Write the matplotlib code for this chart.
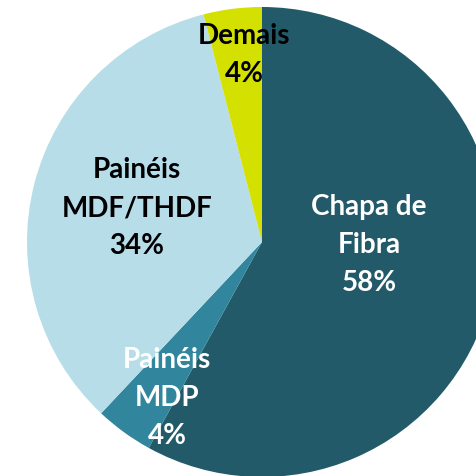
import matplotlib
matplotlib.use('Agg')
import matplotlib.pyplot as plt

# data
categories = ['Chapa de\nFibra', 'Painéis\nMDP', 'Painéis\nMDF/THDF', 'Demais']
shares = [58, 4, 34, 4]
colors = ['#225a69', '#31859c', '#b7dde8', '#d4e000']
text_colors = ['white', 'white', 'black', 'black']

# label centres in pixels (x, y from top)
label_pos = [(369, 245), (167, 398), (137, 208), (244, 55)]

W, H = 477, 476
fig = plt.figure(figsize=(W / 100, H / 100), dpi=100)
ax = fig.add_axes([0, 0, 1, 1])

cx, cy, r = 262, H - 242, 235
ax.pie(shares, colors=colors, startangle=90, counterclock=False,
       center=(cx, cy), radius=r, frame=True,
       wedgeprops=dict(linewidth=0))
ax.set_xlim(0, W)
ax.set_ylim(0, H)
ax.set_aspect('equal')
ax.axis('off')

for cat, val, col, (px, py) in zip(categories, shares, text_colors, label_pos):
    ax.text(px, H - py, '%s\n%d%%' % (cat, val), color=col,
            ha='center', va='center', fontsize=20, fontweight='bold',
            family='Lato', linespacing=1.58)

fig.savefig('out.png', dpi=100)
